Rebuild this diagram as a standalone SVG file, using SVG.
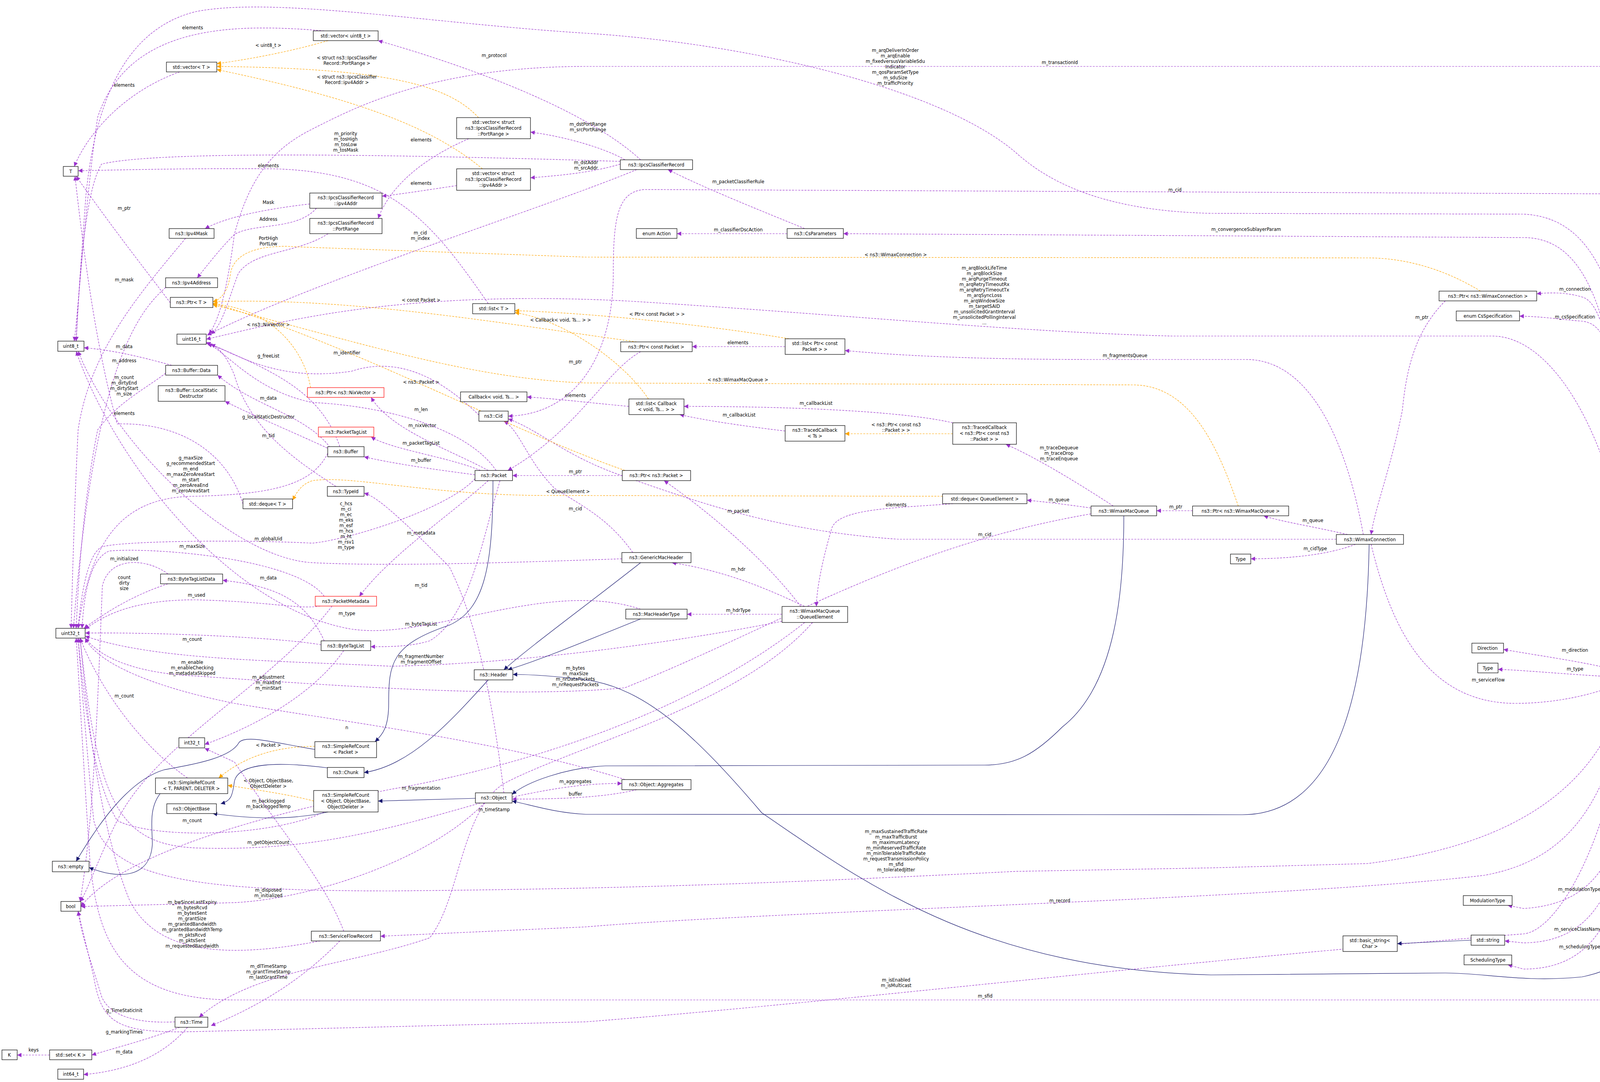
<svg xmlns="http://www.w3.org/2000/svg" width="4519" height="2769" viewBox="0 0 4519 2769">
<style>
text{font-family:"DejaVu Sans","Liberation Sans",sans-serif;font-size:11.5px;text-anchor:middle;fill:#000}
.n rect{fill:#fff;stroke:#000;stroke-width:1.2}
.r rect{stroke:#f00}
.p{fill:none;stroke:#9a32cd;stroke-width:1.2;stroke-dasharray:5,3;marker-end:url(#ap)}
.o{fill:none;stroke:#ffa500;stroke-width:1.2;stroke-dasharray:5,3;marker-end:url(#ao)}
.b{fill:none;stroke:#191970;stroke-width:1.2;marker-end:url(#ab)}
</style>
<defs>
<marker id="ap" viewBox="0 0 10 10" refX="10" refY="5" markerWidth="11" markerHeight="11" markerUnits="userSpaceOnUse" orient="auto"><path d="M0,0L10,5L0,10z" fill="#9a32cd"/></marker>
<marker id="ao" viewBox="0 0 10 10" refX="10" refY="5" markerWidth="11" markerHeight="11" markerUnits="userSpaceOnUse" orient="auto"><path d="M0,0L10,5L0,10z" fill="#ffa500"/></marker>
<marker id="ab" viewBox="0 0 10 10" refX="10" refY="5" markerWidth="11" markerHeight="11" markerUnits="userSpaceOnUse" orient="auto"><path d="M0,0L10,5L0,10z" fill="#191970"/></marker>
</defs>
<rect width="4519" height="2769" fill="#fff"/>
<g id="edges">
<path class="p" d="M830,79 C600,60 330,60 250,300 C220,500 200,800 190,873"/><text x="493" y="75">elements</text>
<path class="p" d="M460,184 C330,230 230,330 190,426"/><text x="318" y="222">elements</text>
<path class="p" d="M1640,409 C1500,280 1200,170 968,104"/><text x="1265" y="146">m_protocol</text>
<path class="p" d="M1600,409 C1550,380 1450,350 1358,338"/><text x="1505" y="322">m_dstPortRange</text><text x="1505" y="336">m_srcPortRange</text>
<path class="p" d="M1588,420 C1520,440 1450,448 1358,455"/><text x="1500" y="420">m_dstAddr</text><text x="1500" y="434">m_srcAddr</text>
<path class="p" d="M1630,434 C1400,530 800,720 530,858"/><text x="1076" y="600">m_cid</text><text x="1076" y="614">m_index</text>
<path class="p" d="M1588,413 C1000,395 400,385 260,420 C210,500 200,800 195,873"/><text x="885" y="346">m_priority</text><text x="885" y="360">m_tosHigh</text><text x="885" y="374">m_tosLow</text><text x="885" y="388">m_tosMask</text>
<path class="p" d="M1200,355 C1050,420 990,500 968,559"/><text x="1078" y="362">elements</text>
<path class="p" d="M1169,475 C1100,485 1040,495 978,502"/><text x="1078" y="473">elements</text>
<path class="p" d="M793,522 C680,535 580,555 525,585"/><text x="687" y="522">Mask</text>
<path class="p" d="M810,533 C760,590 650,570 600,600 C560,640 530,680 505,711"/><text x="687" y="565">Address</text>
<path class="p" d="M840,598 C760,650 650,640 610,700 C580,780 570,830 540,855"/><text x="687" y="614">PortHigh</text><text x="687" y="628">PortLow</text>
<path class="p" d="M1250,777 C1100,560 1000,440 700,432 C500,430 300,435 200,437"/><text x="687" y="428">elements</text>
<path class="p" d="M436,775 C380,700 300,600 195,451"/><text x="318" y="537">m_ptr</text>
<path class="p" d="M475,610 C350,760 230,900 200,1100 C190,1300 185,1500 182,1608"/><text x="318" y="720">m_mask</text>
<path class="p" d="M424,736 C350,800 240,950 188,1608"/><text x="318" y="927">m_address</text>
<path class="p" d="M440,935 C350,910 280,895 215,890"/><text x="318" y="891">m_data</text>
<path class="p" d="M424,955 C380,990 300,1030 250,1100 C210,1300 200,1500 195,1608"/><text x="318" y="970">m_count</text><text x="318" y="984">m_dirtyEnd</text><text x="318" y="998">m_dirtyStart</text><text x="318" y="1012">m_size</text>
<path class="p" d="M622,1290 C580,1150 450,1080 300,1085 C250,900 220,700 192,451"/><text x="318" y="1062">elements</text>
<path class="p" d="M839,1160 C800,1240 700,1265 500,1270 C300,1270 230,1400 200,1608"/><text x="488" y="1176">g_maxSize</text><text x="488" y="1190">g_recommendedStart</text><text x="488" y="1204">m_end</text><text x="488" y="1218">m_maxZeroAreaStart</text><text x="488" y="1232">m_start</text><text x="488" y="1246">m_zeroAreaEnd</text><text x="488" y="1260">m_zeroAreaStart</text>
<path class="p" d="M845,1145 C780,1060 650,1040 557,960"/><text x="687" y="1023">m_data</text>
<path class="p" d="M845,1150 C760,1110 640,1060 576,1027"/><text x="687" y="1071">g_localStaticDestructor</text>
<path class="p" d="M870,1143 C820,1000 700,950 528,876"/><text x="687" y="915">g_freeList</text>
<path class="p" d="M860,1245 C760,1180 640,1100 600,960 C580,910 560,890 540,881"/><text x="687" y="1119">m_tid</text>
<path class="p" d="M1226,1062 C1170,1010 1050,900 900,950 C700,980 600,900 528,878"/><text x="888" y="907">m_identifier</text>
<path class="p" d="M1250,1204 C1150,1150 1000,1100 950,1017"/><text x="1081" y="1093">m_nixVector</text>
<path class="p" d="M1230,1204 C1150,1170 1000,1150 950,1118"/><text x="1078" y="1138">m_packetTagList</text>
<path class="p" d="M1216,1215 C1100,1200 1000,1185 932,1169"/><text x="1078" y="1182">m_buffer</text>
<path class="p" d="M1270,1204 C1200,1100 1000,1040 800,1030 C650,1000 580,900 532,880"/><text x="1078" y="1052">m_len</text>
<path class="p" d="M2010,887 L1772,887"/><text x="1889" y="881">elements</text>
<path class="p" d="M1610,1040 C1500,1030 1420,1020 1349,1016"/><text x="1473" y="1016">elements</text>
<path class="p" d="M2439,1082 C2300,1050 2000,1040 1751,1040"/><text x="2089" y="1036">m_callbackList</text>
<path class="p" d="M2010,1103 C1900,1090 1800,1075 1740,1061"/><text x="1892" y="1066">m_callbackList</text>
<path class="p" d="M2060,585 C1950,540 1800,480 1710,434"/><text x="1890" y="469">m_packetClassifierRule</text>
<path class="p" d="M2015,598 L1733,598"/><text x="1890" y="592">m_classifierDscAction</text>
<path class="p" d="M2850,1295 C2750,1230 2650,1170 2575,1137"/><text x="2711" y="1150">m_traceDequeue</text><text x="2711" y="1164">m_traceDrop</text><text x="2711" y="1178">m_traceEnqueue</text>
<path class="p" d="M2793,1300 C2720,1290 2680,1285 2629,1280"/><text x="2711" y="1283">m_queue</text>
<path class="p" d="M3053,1307 L2961,1307"/><text x="3010" y="1301">m_ptr</text>
<path class="p" d="M3450,1368 C3350,1345 3280,1335 3235,1320"/><text x="3361" y="1336">m_queue</text>
<path class="p" d="M3421,1380 L2300,1380 C2000,1360 1800,1290 1600,1220 C1450,1170 1380,1100 1301,1072"/><text x="2521" y="1372">m_cid</text>
<path class="p" d="M3470,1393 C3400,1420 3300,1430 3202,1430"/><text x="3367" y="1408">m_cidType</text>
<path class="p" d="M3700,770 C3620,850 3600,950 3590,1050 C3560,1200 3520,1300 3510,1368"/><text x="3640" y="816">m_ptr</text>
<path class="p" d="M3510,1393 C3560,1600 3650,1800 3880,1800 C4000,1800 4100,1770 4150,1748"/><text x="3810" y="1744">m_serviceFlow</text>
<path class="p" d="M4175,1723 C4150,1000 4120,780 4050,760 C4000,745 3950,750 3934,752"/><text x="4032" y="744">m_connection</text>
<path class="p" d="M4180,1723 C4160,1000 4140,830 4050,822 C4000,818 3950,810 3890,809"/><text x="4032" y="815">m_csSpecification</text>
<path class="p" d="M4160,1723 C4100,1700 3950,1680 3849,1662"/><text x="4032" y="1668">m_direction</text>
<path class="p" d="M4128,1732 C4000,1725 3900,1715 3835,1713"/><text x="4032" y="1716">m_type</text>
<path class="p" d="M4190,1748 C4170,2100 4150,2310 3900,2325 L3860,2317"/><text x="4043" y="2280">m_modulationType</text>
<path class="p" d="M4195,1748 C4170,2150 4150,2410 3900,2413 L3852,2408"/><text x="4040" y="2382">m_serviceClassName</text>
<path class="p" d="M4200,1748 C4180,2200 4160,2480 3900,2480 L3860,2469"/><text x="4044" y="2427">m_schedulingType</text>
<path class="p" d="M4411,1736 L4260,1736"/><text x="4337" y="1729">m_serviceFlow</text>
<path class="p" d="M4185,1723 C4170,900 4100,608 3900,608 L2159,598"/><text x="3190" y="591">m_convergenceSublayerParam</text>
<path class="p" d="M4240,1723 C4230,900 4200,496 4100,496 L1650,485 C1580,490 1570,560 1570,700 C1570,900 1480,1060 1301,1065"/><text x="3008" y="490">m_cid</text>
<path class="p" d="M4220,1723 C4200,900 4150,560 3900,548 L3100,546 C2850,540 2700,480 2600,390 C2400,220 1900,110 1500,85 C1100,60 700,-10 500,30 C300,80 240,300 220,500 C205,700 198,800 195,873"/><text x="2292" y="133">m_arqDeliverInOrder</text><text x="2292" y="147">m_arqEnable</text><text x="2292" y="161">m_fixedversusVariableSdu</text><text x="2292" y="175">Indicator</text><text x="2292" y="189">m_qosParamSetType</text><text x="2292" y="203">m_sduSize</text><text x="2292" y="217">m_trafficPriority</text>
<path class="p" d="M4200,1723 C4180,1200 4000,860 3820,860 L3000,860 C2600,850 2100,800 1600,770 C1000,740 700,830 528,868"/><text x="2520" y="690">m_arqBlockLifeTime</text><text x="2520" y="704">m_arqBlockSize</text><text x="2520" y="718">m_arqPurgeTimeout</text><text x="2520" y="732">m_arqRetryTimeoutRx</text><text x="2520" y="746">m_arqRetryTimeoutTx</text><text x="2520" y="760">m_arqSyncLoss</text><text x="2520" y="774">m_arqWindowSize</text><text x="2520" y="788">m_targetSAID</text><text x="2520" y="802">m_unsolicitedGrantInterval</text><text x="2520" y="816">m_unsolicitedPollingInterval</text><text x="2520" y="830">...</text>
<path class="p" d="M4470,1723 C4450,800 4430,300 4340,200 C4300,175 4250,170 4200,170 L1500,170 C1100,170 900,280 800,330 C700,380 640,450 600,600 C580,750 560,820 535,855"/><text x="2713" y="164">m_transactionId</text>
<path class="p" d="M3490,1368 C3460,1200 3380,920 3190,920 L2800,920 C2500,920 2300,910 2163,897"/><text x="2880" y="914">m_fragmentsQueue</text>
<path class="p" d="M4460,1748 C4440,2200 4380,2450 4200,2559 L600,2559 C300,2559 250,2400 230,2200 C210,1900 200,1700 195,1633"/><text x="2522" y="2553">m_sfid</text>
<path class="p" d="M4170,1748 C4140,2100 4000,2380 3900,2390 C3000,2460 2200,2560 1500,2615 L500,2640 C300,2645 260,2620 240,2500 L200,2332"/><text x="2294" y="2512">m_isEnabled</text><text x="2294" y="2526">m_isMulticast</text>
<path class="p" d="M4165,1748 C4100,2000 3900,2160 3500,2210 L3100,2221 L2600,2230 C2000,2260 1600,2275 1000,2280 C500,2280 280,2250 240,2100 C220,1900 205,1700 200,1633"/><text x="2294" y="2132">m_maxSustainedTrafficRate</text><text x="2294" y="2146">m_maxTrafficBurst</text><text x="2294" y="2160">m_maximumLatency</text><text x="2294" y="2174">m_minReservedTrafficRate</text><text x="2294" y="2188">m_minTolerableTrafficRate</text><text x="2294" y="2202">m_requestTransmissionPolicy</text><text x="2294" y="2216">m_sfid</text><text x="2294" y="2230">m_toleratedJitter</text>
<path class="p" d="M4172,1748 C4120,2050 4020,2200 3800,2240 C3300,2300 2000,2330 1500,2372 L974,2396"/><text x="2713" y="2309">m_record</text>
<path class="p" d="M1250,1230 C1150,1320 1000,1420 920,1526"/><text x="1078" y="1368">m_metadata</text>
<path class="p" d="M1280,1230 C1230,1400 1200,1580 1100,1640 C1050,1655 1000,1655 949,1655"/><text x="1078" y="1601">m_byteTagList</text>
<path class="p" d="M1216,1225 C1150,1300 900,1380 800,1390 C600,1380 300,1385 260,1400 C220,1420 205,1550 200,1608"/><text x="687" y="1383">m_globalUid</text>
<path class="p" d="M830,1526 C760,1430 400,1400 280,1410 C230,1430 215,1520 210,1608"/><text x="492" y="1402">m_maxSize</text>
<path class="p" d="M820,1551 C760,1560 700,1540 500,1535 C330,1535 260,1580 218,1610"/><text x="503" y="1527">m_used</text>
<path class="p" d="M850,1551 C700,1750 400,1900 300,2100 C250,2200 220,2290 205,2307"/>
<path class="p" d="M822,1650 C700,1630 400,1618 218,1620"/><text x="492" y="1640">m_count</text>
<path class="p" d="M2002,1590 C1700,1650 1300,1700 1000,1705 C700,1690 400,1690 218,1628"/><text x="1078" y="1684">m_fragmentNumber</text><text x="1078" y="1698">m_fragmentOffset</text>
<path class="p" d="M2793,1315 C2300,1400 2000,1600 1600,1760 C1300,1790 800,1750 500,1730 C300,1720 240,1660 218,1633"/><text x="1473" y="1714">m_bytes</text><text x="1473" y="1728">m_maxSize</text><text x="1473" y="1742">m_nrDataPackets</text><text x="1473" y="1756">m_nrRequestPackets</text>
<text x="492" y="1699">m_enable</text><text x="492" y="1713">m_enableChecking</text><text x="492" y="1727">m_metadataSkipped</text>
<path class="p" d="M830,1640 C780,1530 700,1500 570,1485"/><text x="687" y="1483">m_data</text>
<path class="p" d="M430,1494 C350,1520 280,1560 215,1608"/><text x="318" y="1482">count</text><text x="318" y="1496">dirty</text><text x="318" y="1510">size</text>
<path class="p" d="M430,1469 C380,1430 280,1420 262,1500 C250,1800 240,2100 205,2307"/><text x="318" y="1434">m_initialized</text>
<path class="p" d="M880,1665 C800,1780 650,1860 524,1905"/><text x="687" y="1737">m_adjustment</text><text x="687" y="1751">m_maxEnd</text><text x="687" y="1765">m_minStart</text>
<path class="p" d="M480,1991 C350,1900 250,1750 205,1633"/><text x="318" y="1785">m_count</text>
<path class="p" d="M830,2078 C700,2140 400,2150 300,2100 C240,2000 215,1800 200,1633"/><text x="492" y="2104">m_count</text>
<path class="p" d="M1230,2055 C1000,2120 800,2180 500,2170 C300,2160 250,2050 205,1633"/><text x="687" y="2160">m_getObjectCount</text>
<path class="p" d="M1290,2029 C1250,1700 1200,1550 1150,1450 C1000,1300 960,1270 932,1262"/><text x="1078" y="1502">m_tid</text>
<path class="p" d="M1640,1559 C1400,1480 1100,1640 900,1610 C600,1560 300,1200 195,899"/><text x="888" y="1574">m_type</text>
<path class="p" d="M1592,1430 C1300,1440 1000,1450 800,1440 C600,1430 300,1150 200,899"/><text x="886" y="1293">c_hcs</text><text x="886" y="1307">m_ci</text><text x="886" y="1321">m_ec</text><text x="886" y="1335">m_eks</text><text x="886" y="1349">m_esf</text><text x="886" y="1363">m_hcs</text><text x="886" y="1377">m_ht</text><text x="886" y="1391">m_rsv1</text><text x="886" y="1405">m_type</text>
<path class="p" d="M1620,1414 C1560,1330 1500,1300 1420,1250 C1350,1180 1330,1100 1290,1078"/><text x="1473" y="1306">m_cid</text>
<path class="p" d="M2060,1552 C1950,1500 1850,1460 1720,1440"/><text x="1890" y="1461">m_hdr</text>
<path class="p" d="M2002,1572 L1759,1572"/><text x="1890" y="1566">m_hdrType</text>
<path class="p" d="M2050,1552 C1950,1420 1800,1300 1700,1230"/><text x="1890" y="1312">m_packet</text>
<path class="p" d="M2440,1289 C2300,1300 2150,1300 2130,1350 C2100,1450 2090,1520 2090,1552"/><text x="2294" y="1296">elements</text>
<path class="p" d="M2080,1593 C1900,1800 1500,1900 1300,2000 C1180,2060 1180,2300 1100,2400 C900,2470 650,2480 510,2603"/><text x="1265" y="2076">m_timeStamp</text>
<path class="p" d="M870,2408 C800,2480 700,2560 540,2625"/><text x="687" y="2477">m_dlTimeStamp</text><text x="687" y="2491">m_grantTimeStamp</text><text x="687" y="2505">m_lastGrantTime</text>
<path class="p" d="M820,2408 C600,2450 400,2450 330,2300 C250,2100 220,1800 205,1633"/><text x="492" y="2313">m_bwSinceLastExpiry</text><text x="492" y="2327">m_bytesRcvd</text><text x="492" y="2341">m_bytesSent</text><text x="492" y="2355">m_grantSize</text><text x="492" y="2369">m_grantedBandwidth</text><text x="492" y="2383">m_grantedBandwidthTemp</text><text x="492" y="2397">m_pktsRcvd</text><text x="492" y="2411">m_pktsSent</text><text x="492" y="2425">m_requestedBandwidth</text>
<path class="p" d="M880,2383 C830,2250 700,2100 600,1950 L524,1915"/><text x="687" y="2054">m_backlogged</text><text x="687" y="2068">m_backloggedTemp</text>
<path class="p" d="M2060,1593 C1800,1800 1400,1950 1000,2020 C600,2100 300,2200 207,2320"/><text x="1078" y="2021">m_fragmentation</text>
<path class="p" d="M1240,2055 C1100,2200 800,2300 600,2310 L207,2320"/><text x="687" y="2282">m_disposed</text><text x="687" y="2296">m_initialized</text>
<path class="p" d="M1311,2040 C1450,2010 1520,2005 1592,2005"/><text x="1473" y="2004">m_aggregates</text>
<path class="p" d="M1630,2021 C1550,2040 1450,2045 1311,2045"/><text x="1473" y="2036">buffer</text>
<path class="p" d="M1600,1995 C1300,1900 900,1850 600,1800 C400,1760 250,1700 218,1633"/><text x="888" y="1866">n</text>
<path class="p" d="M1640,900 C1550,950 1480,1100 1300,1204"/><text x="1473" y="930">m_ptr</text>
<path class="p" d="M1593,1217 L1312,1217"/><text x="1473" y="1211">m_ptr</text>
<path class="p" d="M448,2615 C350,2620 280,2600 260,2550 C230,2450 210,2400 200,2332"/><text x="318" y="2590">g_TimeStaticInit</text>
<path class="p" d="M460,2629 C380,2660 300,2680 235,2700"/><text x="318" y="2645">g_markingTimes</text>
<path class="p" d="M127,2700 L44,2700"/><text x="86" y="2691">keys</text>
<path class="p" d="M480,2629 C420,2700 330,2740 214,2750"/><text x="318" y="2696">m_data</text>
<path class="o" d="M840,104 C750,130 650,150 555,163"/><text x="687" y="120">&lt; uint8_t &gt;</text>
<path class="o" d="M1225,301 C1150,220 1000,175 555,170"/><text x="888" y="152">&lt; struct ns3::IpcsClassifier</text><text x="888" y="166">Record::PortRange &gt;</text>
<path class="o" d="M1235,432 C1100,320 900,250 555,178"/><text x="888" y="201">&lt; struct ns3::IpcsClassifier</text><text x="888" y="215">Record::ipv4Addr &gt;</text>
<path class="o" d="M795,992 C780,900 700,790 545,778"/><text x="687" y="835">&lt; ns3::NixVector &gt;</text>
<path class="o" d="M1630,875 C1300,830 900,760 545,772"/><text x="1078" y="772">&lt; const Packet &gt;</text>
<path class="o" d="M1600,1204 C1300,1100 900,880 545,776"/><text x="1078" y="982">&lt; ns3::Packet &gt;</text>
<path class="o" d="M3790,745 C3700,690 3600,660 3500,660 L1500,658 L765,632 C680,625 600,640 590,700 C585,740 570,765 545,772"/><text x="2293" y="656">&lt; ns3::WimaxConnection &gt;</text>
<path class="o" d="M3170,1295 C3120,1150 3050,985 2900,985 L1500,980 C1200,970 900,870 545,780"/><text x="1889" y="976">&lt; ns3::WimaxMacQueue &gt;</text>
<path class="o" d="M2020,867 C1800,830 1500,800 1318,795"/><text x="1682" y="808">&lt; Ptr&lt; const Packet &gt; &gt;</text>
<path class="o" d="M1660,1021 C1600,930 1450,820 1318,800"/><text x="1435" y="823">&lt; Callback&lt; void, Ts... &gt; &gt;</text>
<path class="o" d="M2413,1270 L1400,1268 C1100,1268 900,1215 800,1230 C770,1240 760,1260 749,1280"/><text x="1454" y="1262">&lt; QueueElement &gt;</text>
<path class="o" d="M2439,1110 L2163,1110"/><text x="2294" y="1091">&lt; ns3::Ptr&lt; const ns3</text><text x="2294" y="1105">::Packet &gt; &gt;</text>
<path class="o" d="M806,1910 C700,1910 620,1940 560,1991"/><text x="687" y="1911">&lt; Packet &gt;</text>
<path class="o" d="M803,2050 C750,2035 650,2020 583,2010"/><text x="687" y="2002">&lt; Object, ObjectBase,</text><text x="687" y="2016">ObjectDeleter &gt;</text>
<path class="b" d="M3766,2406 L3577,2415"/>
<path class="b" d="M1262,1230 C1262,1450 1240,1560 1150,1600 C1000,1650 995,1700 995,1800 C995,1860 980,1880 960,1898"/>
<path class="b" d="M1640,1440 C1500,1550 1350,1660 1290,1714"/>
<path class="b" d="M1640,1584 C1500,1640 1380,1690 1300,1714"/>
<path class="b" d="M4460,1748 C4400,2150 4300,2450 4050,2500 C3900,2515 3800,2490 3700,2490 L3100,2495 C2500,2480 2200,2250 1950,2080 C1780,1880 1650,1760 1500,1740 C1420,1730 1360,1726 1313,1726"/>
<path class="b" d="M1250,1740 C1150,1850 1050,1960 932,1977"/>
<path class="b" d="M2877,1320 C2877,1500 2860,1750 2720,1860 C2650,1930 2600,1958 2520,1958 L1550,1960 C1450,1965 1350,2000 1311,2033"/>
<path class="b" d="M3505,1393 C3500,1700 3450,2085 3180,2085 L1500,2084 C1420,2080 1360,2060 1311,2050"/>
<path class="b" d="M1217,2043 L968,2050"/>
<path class="b" d="M840,2078 C740,2100 640,2095 545,2082"/>
<path class="b" d="M838,1965 C720,1950 610,1950 600,2000 C595,2040 590,2050 565,2057"/>
<path class="b" d="M806,1918 C700,1900 630,1880 612,1900 C590,1940 500,1955 420,1970 C320,2000 240,2130 195,2204"/>
<path class="b" d="M410,2031 C380,2070 390,2120 390,2160 C385,2250 300,2250 228,2220"/>
</g>
<g id="vec_uint8" class="n"><rect x="802" y="79" width="166" height="25"/><text x="885" y="96">std::vector&lt; uint8_t &gt;</text></g>
<g id="vecT" class="n"><rect x="426" y="159" width="129" height="25"/><text x="490" y="176">std::vector&lt; T &gt;</text></g>
<g id="T" class="n"><rect x="162" y="426" width="38" height="25"/><text x="181" y="443">T</text></g>
<g id="vecPortRange" class="n"><rect x="1169" y="301" width="189" height="54"/><text x="1263" y="317">std::vector&lt; struct</text><text x="1263" y="332">ns3::IpcsClassifierRecord</text><text x="1263" y="347">::PortRange &gt;</text></g>
<g id="vecIpv4Addr" class="n"><rect x="1169" y="432" width="189" height="55"/><text x="1263" y="448">std::vector&lt; struct</text><text x="1263" y="463">ns3::IpcsClassifierRecord</text><text x="1263" y="478">::ipv4Addr &gt;</text></g>
<g id="ipv4Addr" class="n"><rect x="793" y="494" width="185" height="39"/><text x="885" y="510">ns3::IpcsClassifierRecord</text><text x="885" y="525">::ipv4Addr</text></g>
<g id="PortRange" class="n"><rect x="793" y="559" width="185" height="39"/><text x="885" y="575">ns3::IpcsClassifierRecord</text><text x="885" y="590">::PortRange</text></g>
<g id="Ipv4Mask" class="n"><rect x="433" y="585" width="115" height="25"/><text x="490" y="602">ns3::Ipv4Mask</text></g>
<g id="Ipv4Address" class="n"><rect x="424" y="711" width="133" height="25"/><text x="490" y="728">ns3::Ipv4Address</text></g>
<g id="PtrT" class="n"><rect x="436" y="761" width="109" height="26"/><text x="490" y="778">ns3::Ptr&lt; T &gt;</text></g>
<g id="uint16" class="n"><rect x="453" y="855" width="75" height="26"/><text x="490" y="872">uint16_t</text></g>
<g id="uint8" class="n"><rect x="148" y="873" width="67" height="26"/><text x="181" y="890">uint8_t</text></g>
<g id="BufferData" class="n"><rect x="424" y="935" width="133" height="25"/><text x="490" y="952">ns3::Buffer::Data</text></g>
<g id="LocalStatic" class="n"><rect x="405" y="987" width="171" height="40"/><text x="490" y="1003">ns3::Buffer::LocalStatic</text><text x="490" y="1018">Destructor</text></g>
<g id="PtrNix" class="n r"><rect x="787" y="992" width="196" height="25"/><text x="885" y="1009">ns3::Ptr&lt; ns3::NixVector &gt;</text></g>
<g id="PacketTagList" class="n r"><rect x="815" y="1093" width="142" height="25"/><text x="886" y="1110">ns3::PacketTagList</text></g>
<g id="Buffer" class="n"><rect x="839" y="1143" width="93" height="26"/><text x="885" y="1160">ns3::Buffer</text></g>
<g id="Packet" class="n"><rect x="1216" y="1204" width="96" height="26"/><text x="1264" y="1221">ns3::Packet</text></g>
<g id="TypeId" class="n"><rect x="838" y="1245" width="94" height="25"/><text x="885" y="1262">ns3::TypeId</text></g>
<g id="dequeT" class="n"><rect x="622" y="1277" width="127" height="25"/><text x="685" y="1294">std::deque&lt; T &gt;</text></g>
<g id="listT" class="n"><rect x="1210" y="777" width="108" height="26"/><text x="1264" y="794">std::list&lt; T &gt;</text></g>
<g id="CallbackVoid" class="n"><rect x="1179" y="1003" width="170" height="25"/><text x="1264" y="1020">Callback&lt; void, Ts... &gt;</text></g>
<g id="Cid" class="n"><rect x="1226" y="1052" width="75" height="26"/><text x="1263" y="1069">ns3::Cid</text></g>
<g id="ByteTagListData" class="n"><rect x="411" y="1469" width="159" height="25"/><text x="490" y="1486">ns3::ByteTagListData</text></g>
<g id="PacketMetadata" class="n r"><rect x="807" y="1526" width="157" height="25"/><text x="885" y="1543">ns3::PacketMetadata</text></g>
<g id="uint32" class="n"><rect x="143" y="1608" width="75" height="25"/><text x="180" y="1625">uint32_t</text></g>
<g id="ByteTagList" class="n"><rect x="822" y="1640" width="127" height="25"/><text x="885" y="1657">ns3::ByteTagList</text></g>
<g id="Header" class="n"><rect x="1214" y="1714" width="99" height="26"/><text x="1263" y="1731">ns3::Header</text></g>
<g id="int32" class="n"><rect x="458" y="1888" width="66" height="26"/><text x="491" y="1905">int32_t</text></g>
<g id="SRC_Packet" class="n"><rect x="806" y="1898" width="158" height="41"/><text x="885" y="1914">ns3::SimpleRefCount</text><text x="885" y="1929">&lt; Packet &gt;</text></g>
<g id="Chunk" class="n"><rect x="838" y="1964" width="94" height="26"/><text x="885" y="1981">ns3::Chunk</text></g>
<g id="SRC_T" class="n"><rect x="398" y="1991" width="185" height="40"/><text x="490" y="2007">ns3::SimpleRefCount</text><text x="490" y="2022">&lt; T, PARENT, DELETER &gt;</text></g>
<g id="ObjectBase" class="n"><rect x="427" y="2057" width="127" height="25"/><text x="490" y="2074">ns3::ObjectBase</text></g>
<g id="SRC_Object" class="n"><rect x="803" y="2023" width="165" height="55"/><text x="885" y="2039">ns3::SimpleRefCount</text><text x="885" y="2054">&lt; Object, ObjectBase,</text><text x="885" y="2069">ObjectDeleter &gt;</text></g>
<g id="Object" class="n"><rect x="1217" y="2029" width="94" height="26"/><text x="1264" y="2046">ns3::Object</text></g>
<g id="empty" class="n"><rect x="134" y="2204" width="94" height="27"/><text x="181" y="2222">ns3::empty</text></g>
<g id="bool" class="n"><rect x="156" y="2307" width="51" height="25"/><text x="181" y="2324">bool</text></g>
<g id="ServiceFlowRecord" class="n"><rect x="797" y="2383" width="177" height="25"/><text x="885" y="2400">ns3::ServiceFlowRecord</text></g>
<g id="Time" class="n"><rect x="448" y="2603" width="84" height="26"/><text x="490" y="2620">ns3::Time</text></g>
<g id="K" class="n"><rect x="5" y="2687" width="39" height="25"/><text x="24" y="2704">K</text></g>
<g id="setK" class="n"><rect x="127" y="2687" width="108" height="25"/><text x="181" y="2704">std::set&lt; K &gt;</text></g>
<g id="int64" class="n"><rect x="148" y="2736" width="66" height="26"/><text x="181" y="2753">int64_t</text></g>
<g id="IpcsClassifierRecord" class="n"><rect x="1588" y="409" width="185" height="25"/><text x="1680" y="426">ns3::IpcsClassifierRecord</text></g>
<g id="enumAction" class="n"><rect x="1629" y="585" width="104" height="25"/><text x="1681" y="602">enum Action</text></g>
<g id="CsParameters" class="n"><rect x="2015" y="585" width="144" height="25"/><text x="2087" y="602">ns3::CsParameters</text></g>
<g id="PtrConstPacket" class="n"><rect x="1589" y="875" width="183" height="25"/><text x="1680" y="892">ns3::Ptr&lt; const Packet &gt;</text></g>
<g id="listPtrConst" class="n"><rect x="2010" y="867" width="153" height="40"/><text x="2086" y="883">std::list&lt; Ptr&lt; const</text><text x="2086" y="898">Packet &gt; &gt;</text></g>
<g id="listCallback" class="n"><rect x="1610" y="1021" width="141" height="40"/><text x="1680" y="1037">std::list&lt; Callback</text><text x="1680" y="1052">&lt; void, Ts... &gt; &gt;</text></g>
<g id="TracedCallbackTs" class="n"><rect x="2010" y="1089" width="153" height="40"/><text x="2086" y="1105">ns3::TracedCallback</text><text x="2086" y="1120">&lt; Ts &gt;</text></g>
<g id="TracedCallbackPtr" class="n"><rect x="2439" y="1082" width="163" height="55"/><text x="2520" y="1098">ns3::TracedCallback</text><text x="2520" y="1113">&lt; ns3::Ptr&lt; const ns3</text><text x="2520" y="1128">::Packet &gt; &gt;</text></g>
<g id="PtrPacket" class="n"><rect x="1593" y="1204" width="175" height="26"/><text x="1680" y="1221">ns3::Ptr&lt; ns3::Packet &gt;</text></g>
<g id="dequeQE" class="n"><rect x="2413" y="1264" width="216" height="25"/><text x="2521" y="1281">std::deque&lt; QueueElement &gt;</text></g>
<g id="WimaxMacQueue" class="n"><rect x="2793" y="1295" width="168" height="25"/><text x="2877" y="1312">ns3::WimaxMacQueue</text></g>
<g id="GenericMacHeader" class="n"><rect x="1592" y="1414" width="177" height="26"/><text x="1680" y="1431">ns3::GenericMacHeader</text></g>
<g id="MacHeaderType" class="n"><rect x="1602" y="1559" width="157" height="25"/><text x="1680" y="1576">ns3::MacHeaderType</text></g>
<g id="QueueElement" class="n"><rect x="2002" y="1552" width="168" height="41"/><text x="2086" y="1568">ns3::WimaxMacQueue</text><text x="2086" y="1583">::QueueElement</text></g>
<g id="ObjectAggregates" class="n"><rect x="1592" y="1995" width="177" height="26"/><text x="1680" y="2012">ns3::Object::Aggregates</text></g>
<g id="PtrWimaxMacQueue" class="n"><rect x="3053" y="1295" width="246" height="25"/><text x="3176" y="1312">ns3::Ptr&lt; ns3::WimaxMacQueue &gt;</text></g>
<g id="PtrWimaxConnection" class="n"><rect x="3684" y="745" width="250" height="25"/><text x="3809" y="762">ns3::Ptr&lt; ns3::WimaxConnection &gt;</text></g>
<g id="enumCsSpec" class="n"><rect x="3728" y="796" width="162" height="25"/><text x="3809" y="813">enum CsSpecification</text></g>
<g id="WimaxConnection" class="n"><rect x="3421" y="1368" width="172" height="25"/><text x="3507" y="1385">ns3::WimaxConnection</text></g>
<g id="TypeCid" class="n"><rect x="3150" y="1418" width="52" height="25"/><text x="3176" y="1435">Type</text></g>
<g id="Direction" class="n"><rect x="3768" y="1646" width="81" height="25"/><text x="3808" y="1663">Direction</text></g>
<g id="Type2" class="n"><rect x="3783" y="1697" width="52" height="25"/><text x="3809" y="1714">Type</text></g>
<g id="ServiceFlow" class="n"><rect x="4128" y="1723" width="132" height="25"/><text x="4194" y="1740">ns3::ServiceFlow</text></g>
<g id="DsaReq"><rect x="4411" y="1723" width="102" height="25" fill="#bfbfbf" stroke="#000" stroke-width="1.2"/><text x="4462" y="1740">ns3::DsaReq</text></g>
<g id="ModulationType" class="n"><rect x="3746" y="2292" width="125" height="25"/><text x="3808" y="2309">ModulationType</text></g>
<g id="basicString" class="n"><rect x="3438" y="2395" width="139" height="40"/><text x="3507" y="2411">std::basic_string&lt;</text><text x="3507" y="2426">Char &gt;</text></g>
<g id="string" class="n"><rect x="3766" y="2393" width="86" height="26"/><text x="3809" y="2410">std::string</text></g>
<g id="SchedulingType" class="n"><rect x="3748" y="2444" width="122" height="25"/><text x="3809" y="2461">SchedulingType</text></g>
</svg>
